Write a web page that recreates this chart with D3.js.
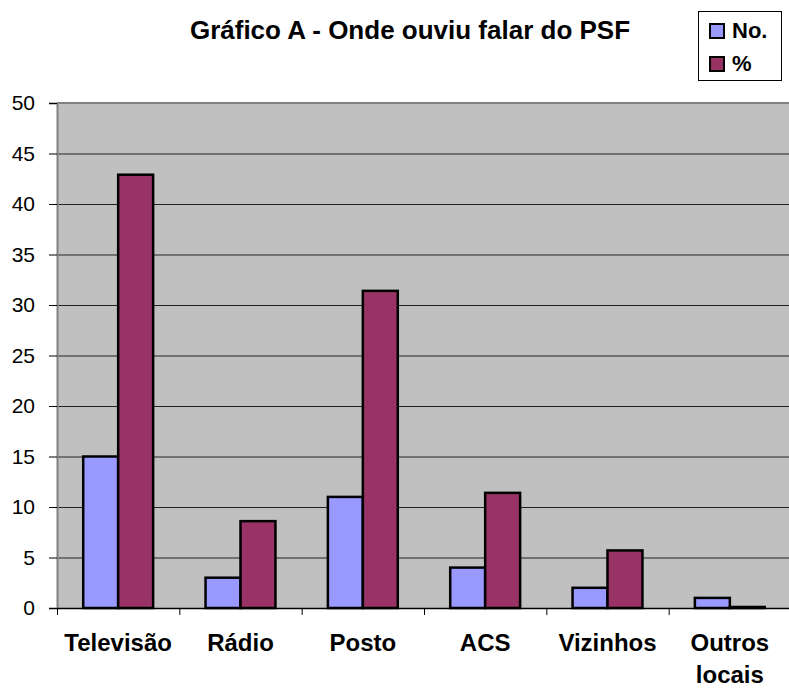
<!DOCTYPE html>
<html>
<head>
  <style>
    body { margin: 0; background: #fff; font-family: Arial, "Liberation Sans", sans-serif; }
  </style>
</head>
<body>
  <svg id="chart" width="789" height="688"></svg>
  <script src="https://d3js.org/d3.v7.min.js"></script>
  <script>
    // Data
    const categories = ["Televisão", "Rádio", "Posto", "ACS", "Vizinhos", "Outros locais"];
    const seriesNames = ["No.", "%"];
    const numValues = [15, 3, 11, 4, 2, 1];
    const pctValues = [42.9, 8.6, 31.4, 11.4, 5.7, 0.1];
    const yTicks = [0, 5, 10, 15, 20, 25, 30, 35, 40, 45, 50];
    const colors = ["#9999ff", "#993366"];

    const svg = d3.select("#chart");
    const margin = { top: 103, left: 57, bottom: 608, right: 791 };
    const width = margin.right - margin.left;
    const height = margin.bottom - margin.top;

    const x = d3.scaleBand().domain(categories).range([margin.left, margin.right]);
    const xInner = d3.scaleBand().domain(seriesNames)
      .range([0, x.bandwidth()]).paddingOuter(0.75).paddingInner(0);
    const y = d3.scaleLinear().domain([0, 50]).range([margin.bottom, margin.top]);

    // plot background
    svg.append("rect")
      .attr("x", margin.left).attr("y", margin.top)
      .attr("width", width).attr("height", height)
      .attr("fill", "#c0c0c0");

    // gridlines
    svg.append("g").selectAll("line")
      .data(yTicks.filter(d => d > 0 && d < 50))
      .enter().append("line")
      .attr("x1", margin.left).attr("x2", margin.right)
      .attr("y1", d => y(d) + 0.5).attr("y2", d => y(d) + 0.5)
      .attr("stroke", "#222").attr("stroke-width", 1);

    // top border
    svg.append("line")
      .attr("x1", margin.left).attr("x2", margin.right)
      .attr("y1", margin.top).attr("y2", margin.top)
      .attr("stroke", "#808080").attr("stroke-width", 2);

    // bars
    const rows = categories.map((c, i) => ({ cat: c, vals: [numValues[i], pctValues[i]] }));
    const groups = svg.append("g").selectAll("g")
      .data(rows).enter().append("g")
      .attr("transform", d => "translate(" + x(d.cat) + ",0)");
    groups.selectAll("rect")
      .data(d => d.vals.map((v, j) => ({ s: seriesNames[j], v: v, j: j })))
      .enter().append("rect")
      .attr("x", d => xInner(d.s))
      .attr("width", xInner.bandwidth())
      .attr("y", d => y(d.v))
      .attr("height", d => y(0) - y(d.v))
      .attr("fill", d => colors[d.j])
      .attr("stroke", "#000").attr("stroke-width", 2.5);

    // y axis
    const yAxis = svg.append("g")
      .attr("transform", "translate(" + margin.left + ",0)")
      .call(d3.axisLeft(y).tickValues(yTicks).tickSize(8).tickPadding(14));
    yAxis.select(".domain").attr("stroke", "#808080").attr("stroke-width", 2);
    yAxis.selectAll(".tick line").attr("stroke", "#000");
    yAxis.selectAll("text")
      .style("font-family", "Arial, 'Liberation Sans', sans-serif")
      .style("font-size", "21px").attr("fill", "#000");

    // x axis
    const xAxis = svg.append("g")
      .attr("transform", "translate(0," + margin.bottom + ")")
      .call(d3.axisBottom(x).tickSize(0).tickFormat(""));
    xAxis.select(".domain").attr("stroke", "#000").attr("stroke-width", 1.5);
    const boundaries = categories.map(c => x(c));
    svg.append("g").selectAll("line")
      .data(boundaries).enter().append("line")
      .attr("x1", d => d + 0.5).attr("x2", d => d + 0.5)
      .attr("y1", margin.bottom).attr("y2", margin.bottom + 7)
      .attr("stroke", "#000");

    // category labels
    const labels = svg.append("g").selectAll("text")
      .data(categories).enter().append("text")
      .attr("x", d => x(d) + x.bandwidth() / 2)
      .attr("y", 651)
      .attr("text-anchor", "middle")
      .style("font-size", "24px").style("font-weight", "bold");
    labels.each(function(d) {
      const words = d.split(" ");
      const t = d3.select(this);
      words.forEach((w, i) => {
        t.append("tspan")
          .attr("x", x(d) + x.bandwidth() / 2)
          .attr("dy", i === 0 ? 0 : 32)
          .text(w);
      });
    });

    // title
    svg.append("text")
      .attr("x", 410).attr("y", 39)
      .attr("text-anchor", "middle")
      .style("font-size", "26px").style("font-weight", "bold")
      .text("Gráfico A - Onde ouviu falar do PSF");

    // legend
    const legend = svg.append("g").attr("transform", "translate(698,11)");
    legend.append("rect")
      .attr("x", 0.5).attr("y", 0.5).attr("width", 83).attr("height", 69)
      .attr("fill", "#fff").attr("stroke", "#000");
    seriesNames.forEach((s, i) => {
      legend.append("rect")
        .attr("x", 12).attr("y", 13 + i * 33)
        .attr("width", 14).attr("height", 14)
        .attr("fill", colors[i]).attr("stroke", "#000").attr("stroke-width", 2);
      legend.append("text")
        .attr("x", 34).attr("y", 27 + i * 33)
        .style("font-size", "22px").style("font-weight", "bold")
        .text(s);
    });
  </script>
</body>
</html>
